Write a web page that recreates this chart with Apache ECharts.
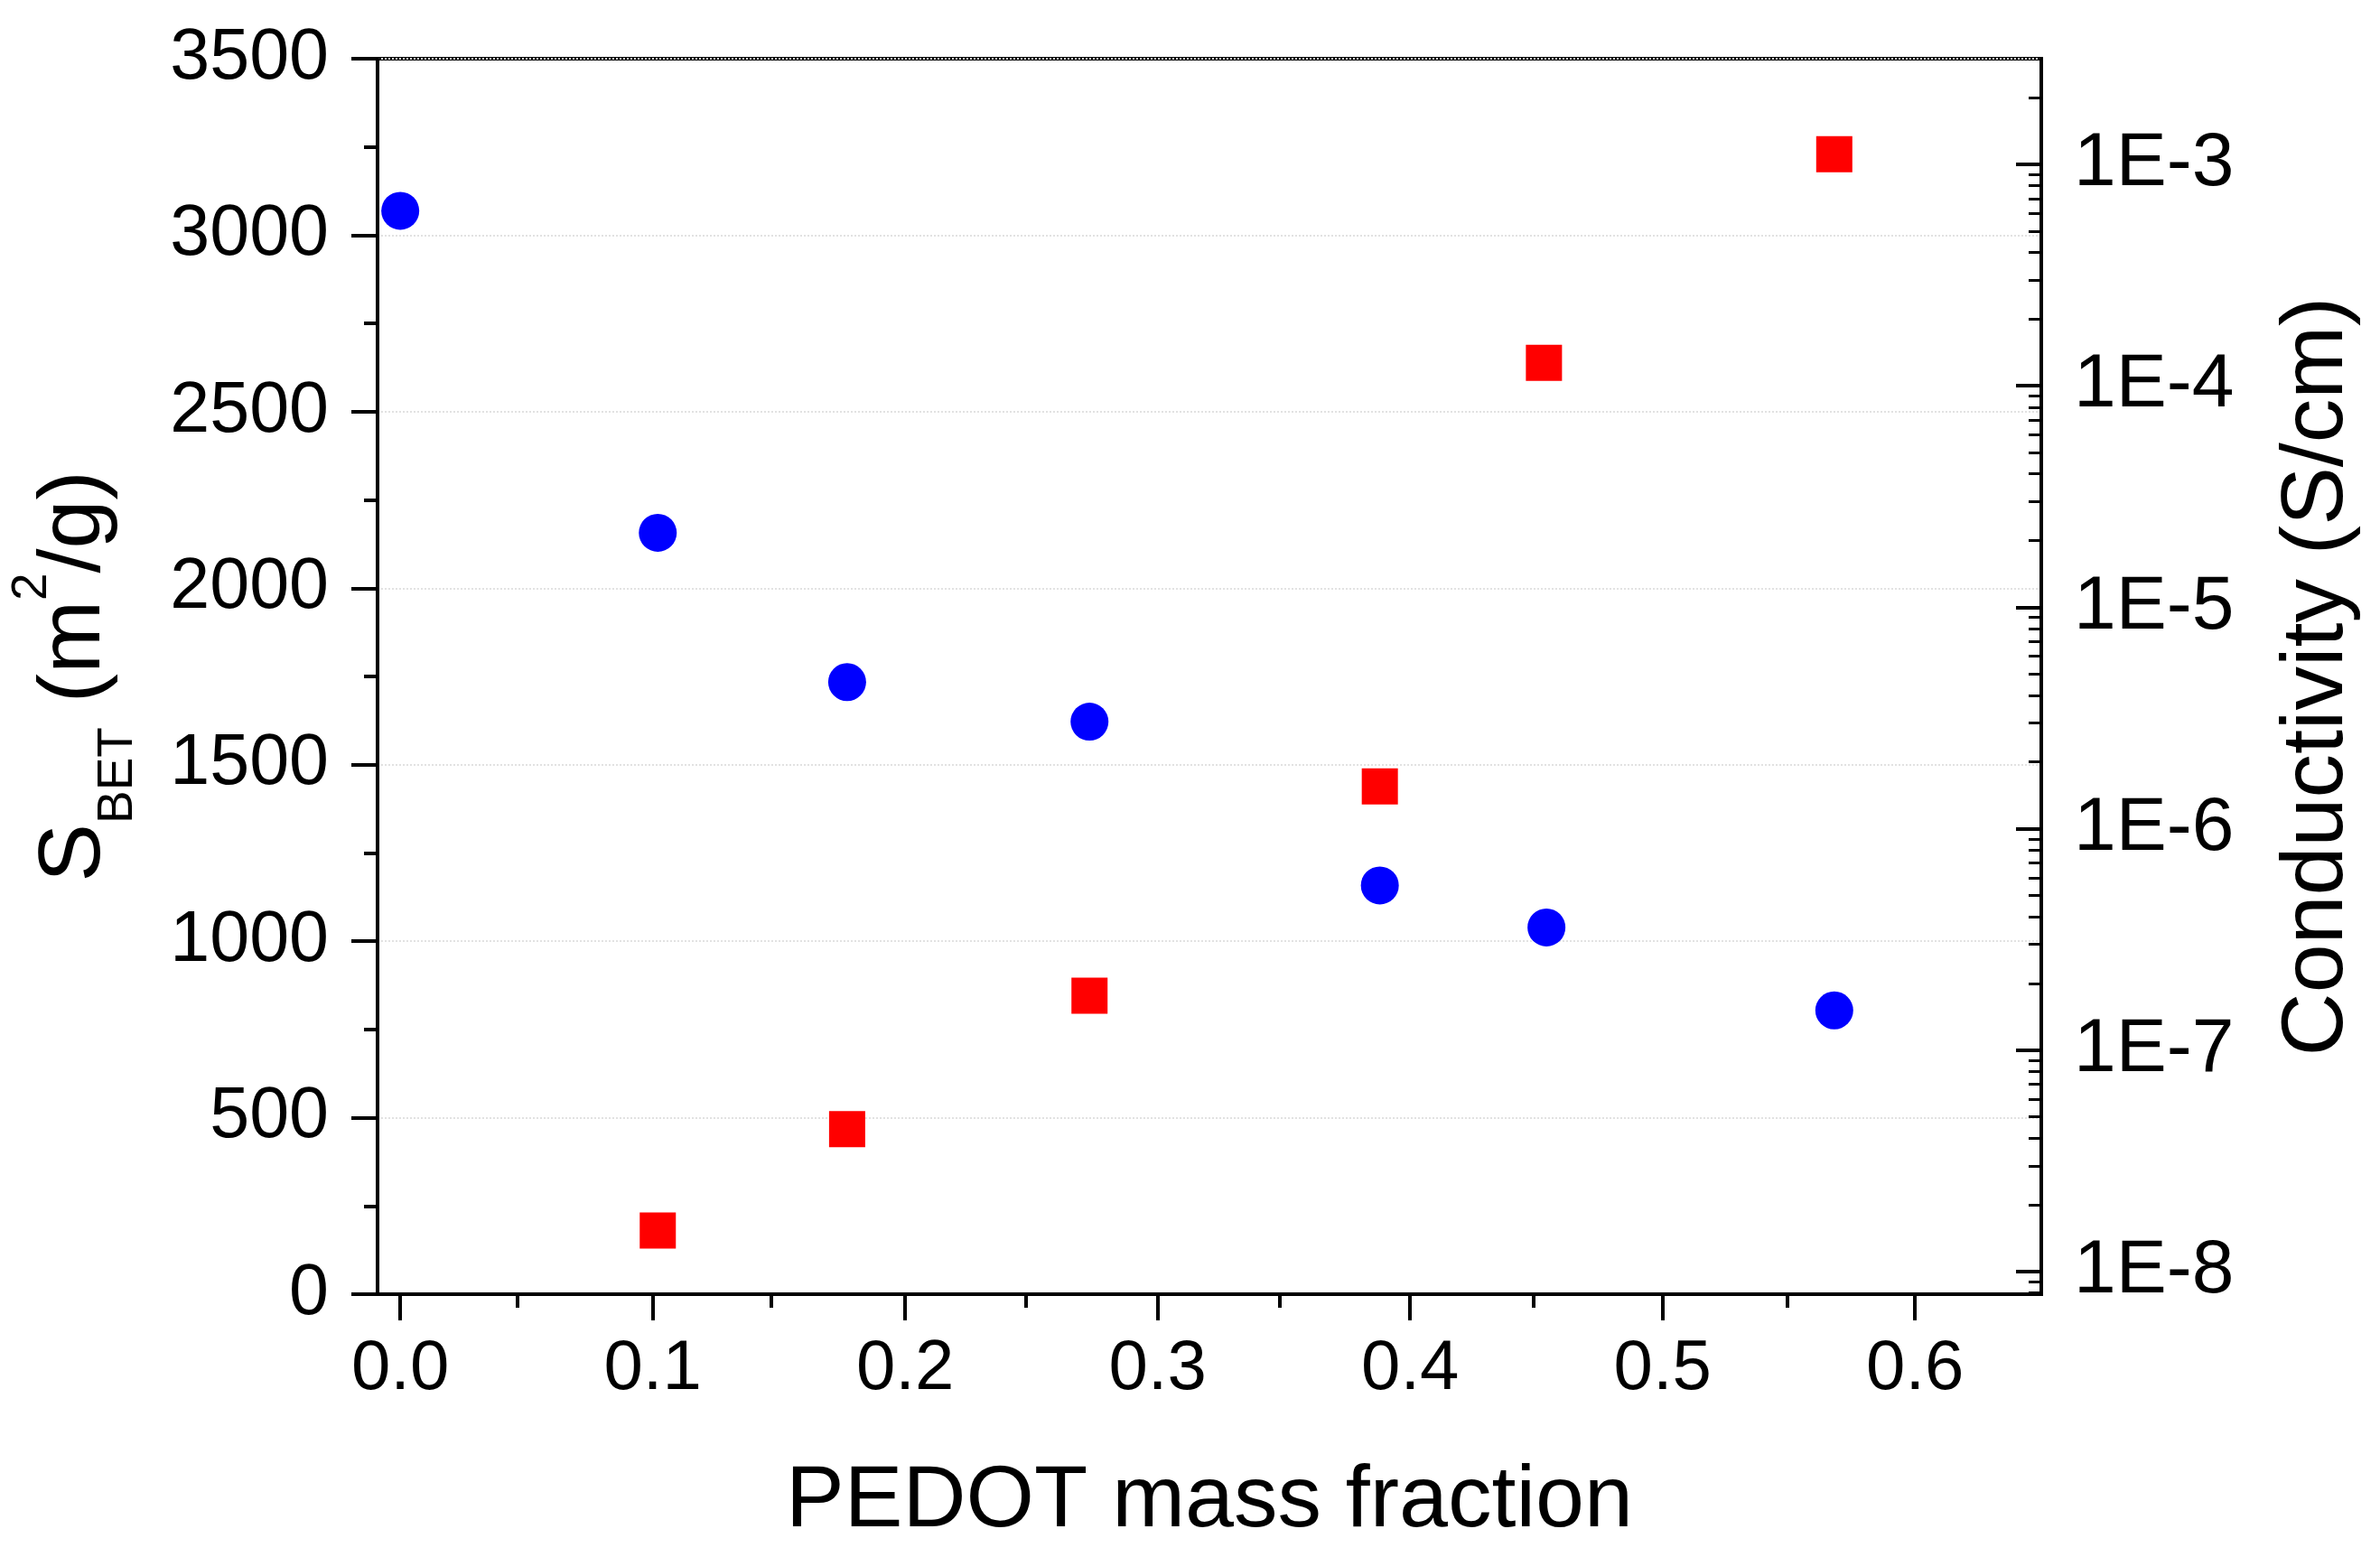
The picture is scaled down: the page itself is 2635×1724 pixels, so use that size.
<!DOCTYPE html>
<html>
<head>
<meta charset="utf-8">
<script src="https://cdn.jsdelivr.net/npm/echarts@6/dist/echarts.min.js"></script>
<style>
  html, body { margin: 0; padding: 0; background: #fff; }
  #chart { width: 2635px; height: 1724px; }
</style>
</head>
<body>
<div id="chart"></div>
<script>
// ---- data ----
const massFractionBET = [0.0, 0.102, 0.177, 0.273, 0.388, 0.454, 0.568];
const sBET = [3069, 2157, 1734, 1622, 1158, 1039, 804];

const massFractionCond = [0.102, 0.177, 0.273, 0.388, 0.453, 0.568];
const conductivity = [1.53e-8, 4.4e-8, 1.76e-7, 1.55e-6, 1.27e-4, 1.11e-3];

const xTickLabels = [0.0, 0.1, 0.2, 0.3, 0.4, 0.5, 0.6];
const xMinorTicks = [0.05, 0.15, 0.25, 0.35, 0.45, 0.55];
const condDecades = [1e-8, 1e-7, 1e-6, 1e-5, 1e-4, 1e-3];

// ---- axis ranges ----
const X_MIN = -0.009, X_MAX = 0.65;
const Y_MIN = 0, Y_MAX = 3500;
const C_MIN = 7.9e-9, C_MAX = 3.0e-3;

// minor log ticks 2..9 x 10^n inside the range
const condMinor = [];
for (let e = -9; e <= -3; e++) {
  for (let m = 2; m <= 9; m++) {
    const v = m * Math.pow(10, e);
    if (v > C_MIN && v < C_MAX * 0.999) condMinor.push(v);
  }
}

const FONT = 'Liberation Sans, Arial, Helvetica, sans-serif';
const AXIS_LINE = { show: true, onZero: false, lineStyle: { color: '#000', width: 4 } };
const NO_LINE = { show: false, onZero: false };
const GRID_RECT = { left: 407, right: 375, top: 65, bottom: 291, containLabel: false };

const chart = echarts.init(document.getElementById('chart'), null, { renderer: 'canvas' });

chart.setOption({
  backgroundColor: '#fff',
  animation: false,
  grid: [
    Object.assign({ show: true, borderColor: '#000', borderWidth: 4, backgroundColor: 'transparent' }, GRID_RECT),
    Object.assign({ show: false }, GRID_RECT)
  ],
  xAxis: [
    {
      gridIndex: 0, type: 'value', position: 'bottom', min: X_MIN, max: X_MAX,
      name: 'PEDOT mass fraction', nameLocation: 'middle', nameGap: 182,
      nameTextStyle: { fontFamily: FONT, fontSize: 97, color: '#000' },
      axisLine: AXIS_LINE,
      axisTick: { show: true, inside: false, length: 29, customValues: xTickLabels,
                  lineStyle: { color: '#000', width: 4 } },
      axisLabel: { show: true, customValues: xTickLabels, margin: 44,
                   fontFamily: FONT, fontSize: 78, color: '#000',
                   formatter: v => Number(v).toFixed(1) },
      splitLine: { show: false }
    },
    {
      gridIndex: 1, type: 'value', position: 'bottom', min: X_MIN, max: X_MAX,
      axisLine: NO_LINE,
      axisTick: { show: true, inside: false, length: 15, customValues: xMinorTicks,
                  lineStyle: { color: '#000', width: 4 } },
      axisLabel: { show: false },
      splitLine: { show: false }
    }
  ],
  yAxis: [
    {
      gridIndex: 0, type: 'value', position: 'left', min: Y_MIN, max: Y_MAX, interval: 500,
      name: '{s|S}{sub|BET}{s| (m}{sup|2}{s|/g)}',
      nameLocation: 'middle', nameGap: 260,
      nameTextStyle: {
        fontFamily: FONT, color: '#000',
        rich: {
          s: { fontFamily: FONT, fontSize: 97, lineHeight: 150, verticalAlign: 'middle', color: '#000' },
          sub: { fontFamily: FONT, fontSize: 55, lineHeight: 54, verticalAlign: 'bottom', color: '#000' },
          sup: { fontFamily: FONT, fontSize: 55, lineHeight: 50, verticalAlign: 'top', color: '#000' }
        }
      },
      axisLine: AXIS_LINE,
      axisTick: { show: true, inside: false, length: 29, lineStyle: { color: '#000', width: 4 } },
      minorTick: { show: true, splitNumber: 2, length: 15, lineStyle: { color: '#000', width: 4 } },
      axisLabel: { margin: 54, fontFamily: FONT, fontSize: 79, color: '#000',
                   formatter: v => String(v) },
      splitLine: { show: true, lineStyle: { color: '#e2e2e2', width: 2, type: 'dotted' } }
    },
    {
      gridIndex: 0, type: 'log', logBase: 10, position: 'right', min: C_MIN, max: C_MAX,
      name: 'Conductivity (S/cm)', nameLocation: 'middle', nameGap: 258,
      nameTextStyle: { fontFamily: FONT, fontSize: 97, color: '#000' },
      axisLine: AXIS_LINE,
      axisTick: { show: true, inside: true, length: 28, customValues: condDecades,
                  lineStyle: { color: '#000', width: 4 } },
      axisLabel: { show: true, customValues: condDecades, margin: 36,
                   fontFamily: FONT, fontSize: 84, color: '#000',
                   formatter: v => '1E' + Math.round(Math.log10(v)) },
      splitLine: { show: false }
    },
    {
      gridIndex: 1, type: 'log', logBase: 10, position: 'right', min: C_MIN, max: C_MAX,
      axisLine: NO_LINE,
      axisTick: { show: true, inside: true, length: 14, customValues: condMinor,
                  lineStyle: { color: '#000', width: 3 } },
      axisLabel: { show: false },
      splitLine: { show: false }
    }
  ],
  series: [
    {
      name: 'S_BET', type: 'scatter', xAxisIndex: 0, yAxisIndex: 0,
      symbol: 'circle', symbolSize: 42,
      itemStyle: { color: '#0000ff', opacity: 1 },
      data: massFractionBET.map((x, i) => [x, sBET[i]])
    },
    {
      name: 'Conductivity', type: 'scatter', xAxisIndex: 0, yAxisIndex: 1,
      symbol: 'rect', symbolSize: 40,
      itemStyle: { color: '#ff0000', opacity: 1 },
      data: massFractionCond.map((x, i) => [x, conductivity[i]])
    }
  ]
});
</script>
</body>
</html>
